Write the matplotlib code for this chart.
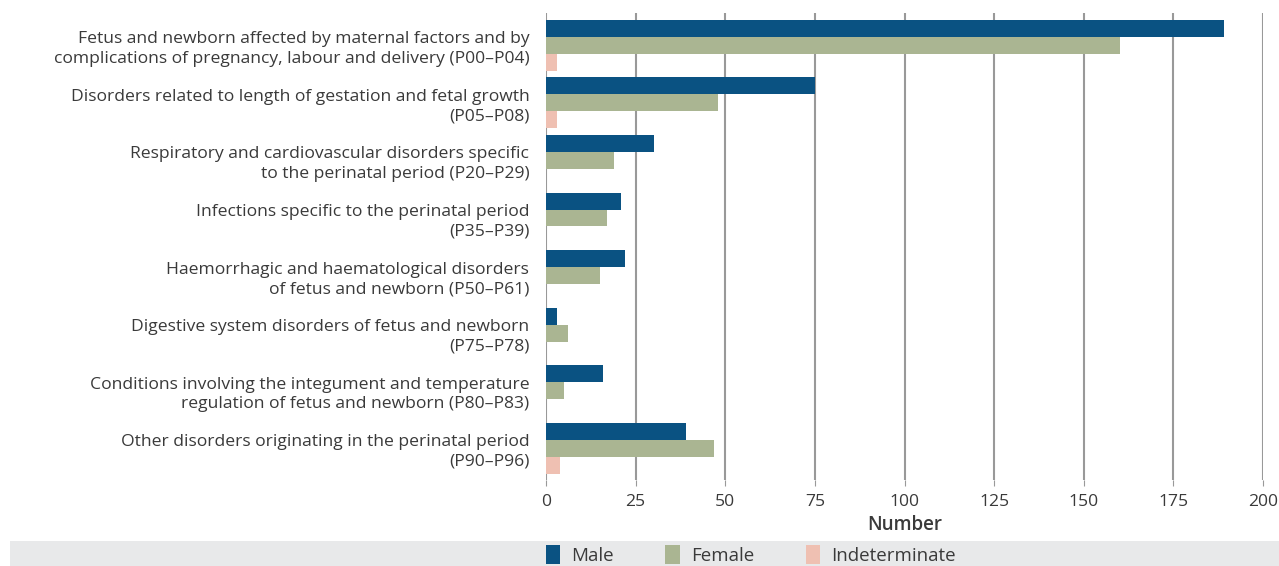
import matplotlib.pyplot as plt
import numpy as np

plt.rcParams['font.family'] = ['Open Sans', 'DejaVu Sans']

categories = [
    "Fetus and newborn affected by maternal factors and by\ncomplications of pregnancy, labour and delivery (P00\u2013P04)",
    "Disorders related to length of gestation and fetal growth\n(P05\u2013P08)",
    "Respiratory and cardiovascular disorders specific\nto the perinatal period (P20\u2013P29)",
    "Infections specific to the perinatal period\n(P35\u2013P39)",
    "Haemorrhagic and haematological disorders\nof fetus and newborn (P50\u2013P61)",
    "Digestive system disorders of fetus and newborn\n(P75\u2013P78)",
    "Conditions involving the integument and temperature\nregulation of fetus and newborn (P80\u2013P83)",
    "Other disorders originating in the perinatal period\n(P90\u2013P96)",
]
male = [189, 75, 30, 21, 22, 3, 16, 39]
female = [160, 48, 19, 17, 15, 6, 5, 47]
indeterminate = [3, 3, 0, 0, 0, 0, 0, 4]

colors = ['#0a5282', '#aab592', '#efc0b2']
text_col = '#3a3a3a'

fig = plt.figure(figsize=(12.79, 5.66), dpi=100)
ax = fig.add_axes([546/1279, 1 - 480/566, (1263-546)/1279, (480-13)/566])

y = np.arange(len(categories))
h = 0.295
ax.barh(y - h, male, height=h, color=colors[0], label='Male', zorder=3)
ax.barh(y, female, height=h, color=colors[1], label='Female', zorder=3)
ax.barh(y + h, indeterminate, height=h, color=colors[2], label='Indeterminate', zorder=3)

ax.set_ylim(7.55, -0.56)
ax.set_xlim(0, 200)
ax.set_xticks(range(0, 201, 25))
ax.set_yticks(y)
ax.set_yticklabels(categories, fontsize=12.6, color=text_col, linespacing=1.3)
ax.tick_params(axis='y', length=0, pad=12)
ax.tick_params(axis='x', length=4, color='#999999', labelsize=12.6, labelcolor=text_col, pad=6)
for lbl in ax.get_yticklabels():
    lbl.set_horizontalalignment('right')
ax.grid(axis='x', color='#999999', linewidth=1.5, zorder=0)
for s in ax.spines.values():
    s.set_visible(False)
ax.set_xlabel('Number', fontsize=13.5, color=text_col, fontweight='semibold', labelpad=4)

# grey legend band
band = fig.add_axes([10/1279, 0, 1 - 10/1279, 25/566])
band.set_facecolor('#e8e9ea')
band.set_xticks([])
band.set_yticks([])
for s in band.spines.values():
    s.set_visible(False)

handles, labels = ax.get_legend_handles_labels()
fig.legend(handles, labels, loc='center', bbox_to_anchor=(0.587, 11/566), ncol=3,
           frameon=False, fontsize=13.5, labelcolor=text_col, handlelength=0.75,
           handleheight=1.2, columnspacing=2.75, handletextpad=0.6,
           borderpad=0.1)

fig.savefig('out.png', dpi=100)
